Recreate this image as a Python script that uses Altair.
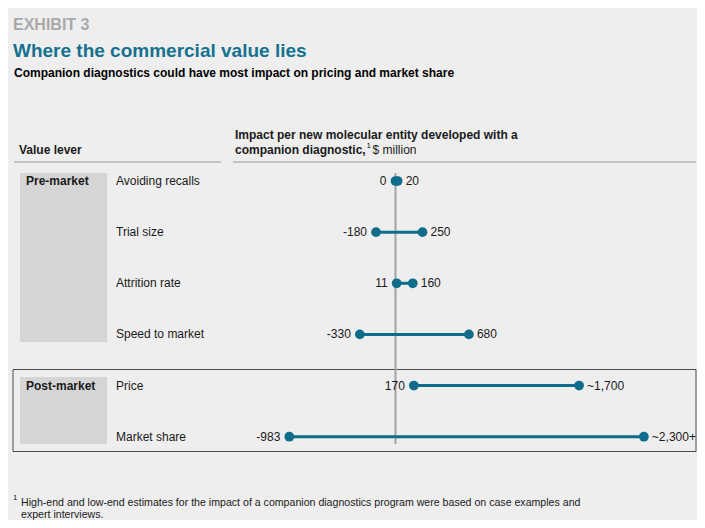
import altair as alt
import pandas as pd

# ---- data -------------------------------------------------------------
levers = ["Avoiding recalls", "Trial size", "Attrition rate",
          "Speed to market", "Price", "Market share"]
low = [0, -180, 11, -330, 170, -983]
high = [20, 250, 160, 680, 1700, 2300]
low_labels = ["0", "-180", "11", "-330", "170", "-983"]
high_labels = ["20", "250", "160", "680", "~1,700", "~2,300+"]
row_index = [0, 1, 2, 3, 4, 5]

# ---- style ------------------------------------------------------------
W, H = 689, 512
FONT = "Liberation Sans"
TEAL = "#0f6c8a"
TITLE_TEAL = "#15718f"
BG = "#eeeeee"
BOX = "#d5d5d5"
TXT = "#1a1a1a"

df = pd.DataFrame({
    "lever": levers, "row": row_index, "low": low, "high": high,
    "low_label": low_labels, "high_label": high_labels,
})
one = pd.DataFrame({"k": [0]})

xs = alt.Scale(domain=[-3588, 2792], range=[0, W], nice=False, zero=False)
ys = alt.Scale(domain=[0, 5], range=[173, 428.7], nice=False, zero=False)


def txt(s, x, y, size=12, bold=False, color=TXT, align="left"):
    return alt.Chart(one).mark_text(
        text=s, font=FONT, fontSize=size, fontWeight="bold" if bold else "normal",
        color=color, align=align, baseline="alphabetic",
    ).encode(x=alt.value(x), y=alt.value(y))


def rect(x, x2, y, y2, **kw):
    return alt.Chart(one).mark_rect(**kw).encode(
        x=alt.value(x), x2=alt.value(x2), y=alt.value(y), y2=alt.value(y2))


def hline(x, x2, y, color="#b3b3b3", w=1.5):
    return alt.Chart(one).mark_rule(color=color, strokeWidth=w).encode(
        x=alt.value(x), x2=alt.value(x2), y=alt.value(y))


base = alt.Chart(df)
X = lambda f: alt.X(f, type="quantitative", scale=xs, axis=None)
Y = alt.Y("row", type="quantitative", scale=ys, axis=None)

boxes = [
    rect(12, 99, 165, 334, color=BOX),
    rect(12, 99, 369, 436, color=BOX),
    rect(5, 688, 361.5, 443.5, fillOpacity=0, stroke="#4a4a4a", strokeWidth=1),
    hline(6, 213, 154),
    hline(225, 688, 154),
]

zero = alt.Chart(one).mark_rule(color="#a3a3a3", strokeWidth=2).encode(
    x=alt.XDatum(0, type="quantitative", scale=xs, axis=None),
    y=alt.value(165), y2=alt.value(436))

ranges = base.mark_rule(color=TEAL, strokeWidth=3).encode(
    x=X("low"), x2="high", y=Y)
pts_lo = base.mark_circle(size=95, opacity=1, color=TEAL).encode(x=X("low"), y=Y)
pts_hi = base.mark_circle(size=95, opacity=1, color=TEAL).encode(x=X("high"), y=Y)

lab_lo = base.mark_text(font=FONT, fontSize=12, color=TXT, align="right",
                        baseline="middle", dx=-9).encode(
    x=X("low"), y=Y, text="low_label:N")
lab_hi = base.mark_text(font=FONT, fontSize=12, color=TXT, align="left",
                        baseline="middle", dx=8).encode(
    x=X("high"), y=Y, text="high_label:N")
lab_row = base.mark_text(font=FONT, fontSize=12, color=TXT, align="left",
                         baseline="middle").encode(
    x=alt.value(108), y=Y, text="lever:N")

texts = [
    txt("EXHIBIT 3", 5, 22, size=16, bold=True, color="#a9a9a9"),
    txt("Where the commercial value lies", 5, 49, size=19, bold=True, color=TITLE_TEAL),
    txt("Companion diagnostics could have most impact on pricing and market share",
        6, 69, size=12, bold=True, color="#000000"),
    txt("Value lever", 11, 146, bold=True),
    txt("Impact per new molecular entity developed with a", 227, 131, bold=True),
    txt("companion diagnostic,", 227, 146, bold=True),
    txt("1", 358.5, 140, size=8),
    txt("$ million", 364.5, 146),
    txt("Pre-market", 18, 177, bold=True),
    txt("Post-market", 18, 382, bold=True),
    txt("1", 5, 492, size=8),
    txt("High-end and low-end estimates for the impact of a companion diagnostics "
        "program were based on case examples and", 13, 498, size=10.6),
    txt("expert interviews.", 13, 510, size=10.6),
]

chart = alt.layer(
    *boxes, zero, ranges, pts_lo, pts_hi, lab_lo, lab_hi, lab_row, *texts
).properties(
    width=W, height=H, background=BG, padding=0,
    autosize=alt.AutoSizeParams(type="none"),
).configure_view(stroke=None)

chart.save("out.html", embed_options={"renderer": "svg", "actions": False})
